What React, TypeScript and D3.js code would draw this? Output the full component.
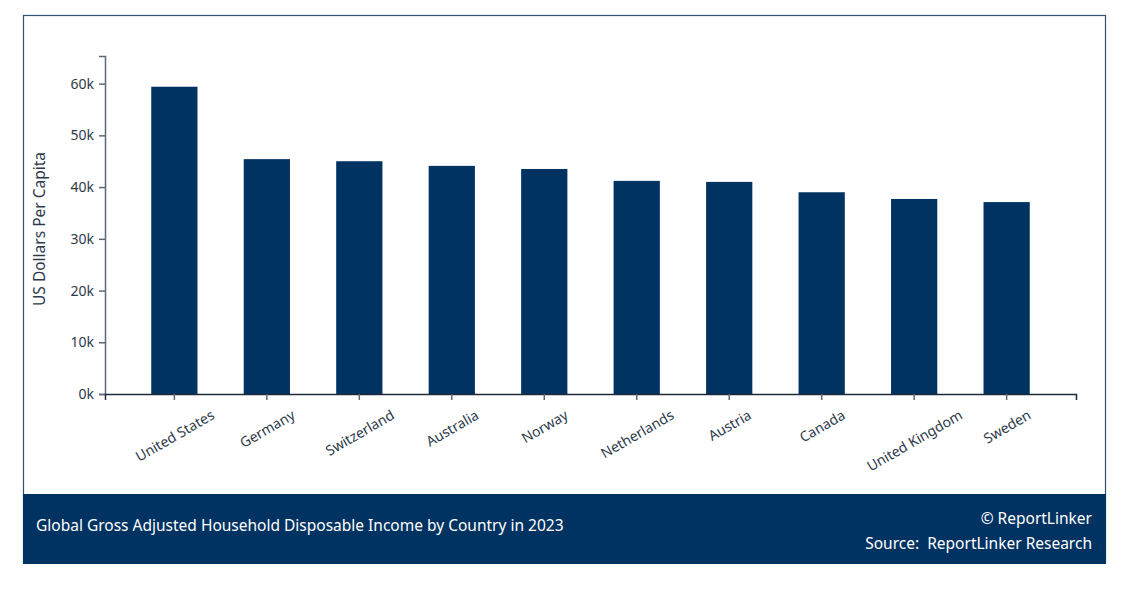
import { useEffect, useRef } from 'react'
import * as d3 from 'd3'

const countries = [
  'United States', 'Germany', 'Switzerland', 'Australia', 'Norway',
  'Netherlands', 'Austria', 'Canada', 'United Kingdom', 'Sweden'
]
const income = [59400, 45400, 45000, 44100, 43500, 41200, 41000, 39000, 37700, 37100]
const yTicks = [0, 10000, 20000, 30000, 40000, 50000, 60000]

const title = 'Global Gross Adjusted Household Disposable Income by Country in 2023'
const yLabel = 'US Dollars Per Capita'

const W = 1121
const H = 608
const NAVY = '#003262'
const FONT = '"Noto Sans", "Open Sans", sans-serif'

export default function App() {
  const svgRef = useRef<SVGSVGElement>(null)

  useEffect(() => {
    if (!svgRef.current) return
    const svg = d3.select(svgRef.current)
    svg.selectAll('*').remove()

    const left = 105, right = 1076, top = 56, bottom = 394

    // frame
    svg.append('rect')
      .attr('x', 23.5).attr('y', 15.5)
      .attr('width', 1082).attr('height', 547)
      .attr('fill', '#fff')
      .attr('stroke', '#2f5276')
      .attr('stroke-width', 1.2)

    const x = d3.scaleBand<string>()
      .domain(countries)
      .range([left, right])
      .paddingInner(0.5)
      .paddingOuter(0.5)

    const y = d3.scaleLinear()
      .domain([0, d3.max(income)! * 1.1])
      .range([bottom, top])

    // bars
    svg.append('g')
      .selectAll('rect')
      .data(countries)
      .enter()
      .append('rect')
      .attr('x', d => x(d)!)
      .attr('width', x.bandwidth())
      .attr('y', (d, i) => y(income[i]))
      .attr('height', (d, i) => bottom - y(income[i]))
      .attr('fill', NAVY)

    // y axis
    const yAxis = svg.append('g')
      .attr('transform', `translate(${left},0)`)
      .call(d3.axisLeft(y).tickValues(yTicks).tickSize(6).tickPadding(5).tickFormat(d => `${+d / 1000}k`))
    yAxis.select('.domain').attr('stroke', '#5d6877').attr('stroke-width', 1.5)
    yAxis.selectAll('.tick line').attr('stroke', '#5d6877').attr('stroke-width', 1.5)
    yAxis.selectAll('.tick text')
      .attr('fill', '#2d3a4a')
      .style('font-family', FONT)
      .style('font-size', '14px')

    // x axis
    const xAxis = svg.append('g')
      .attr('transform', `translate(0,${bottom})`)
      .call(d3.axisBottom(x).tickSize(6).tickFormat(() => ''))
    xAxis.select('.domain').attr('stroke', '#1f2a38').attr('stroke-width', 1.5)
    xAxis.selectAll('.tick line').attr('stroke', '#5d6877').attr('stroke-width', 1.5)

    // rotated category labels, centred under each tick
    const labels = svg.append('g')
      .selectAll('text')
      .data(countries)
      .enter()
      .append('text')
      .attr('text-anchor', 'end')
      .attr('fill', '#2d3a4a')
      .style('font-family', FONT)
      .style('font-size', '14px')
      .text(d => d)
    labels.each(function (d) {
      const el = this as SVGTextElement
      const len = el.getComputedTextLength()
      const cx = x(d)! + x.bandwidth() / 2 + 3
      const ex = cx + (len / 2) * Math.cos(Math.PI / 6)
      el.setAttribute('transform', `translate(${ex},${bottom + 24}) rotate(-30)`)
    })

    // y label
    svg.append('text')
      .attr('transform', `translate(45,${(top + bottom) / 2 + 4}) rotate(-90)`)
      .attr('text-anchor', 'middle')
      .attr('fill', '#2d3a4a')
      .style('font-family', FONT)
      .style('font-size', '15.5px')
      .text(yLabel)

    // footer
    svg.append('rect')
      .attr('x', 23).attr('y', 494)
      .attr('width', 1083).attr('height', 70)
      .attr('fill', NAVY)

    svg.append('text')
      .attr('x', 36).attr('y', 531)
      .attr('fill', '#fff')
      .style('font-family', FONT)
      .style('font-size', '15.5px')
      .text(title)

    svg.append('text')
      .attr('x', 1092).attr('y', 524)
      .attr('text-anchor', 'end')
      .attr('fill', '#fff')
      .style('font-family', FONT)
      .style('font-size', '15.5px')
      .text('© ReportLinker')

    svg.append('text')
      .attr('x', 1092).attr('y', 549)
      .attr('text-anchor', 'end')
      .attr('fill', '#fff')
      .style('font-family', FONT)
      .style('font-size', '15.5px')
      .style('white-space', 'pre')
      .text('Source:  ReportLinker Research')
  }, [])

  return (
    <svg
      ref={svgRef}
      width={W}
      height={H}
      style={{ position: 'absolute', left: 0, top: 0, display: 'block' }}
    />
  )
}
